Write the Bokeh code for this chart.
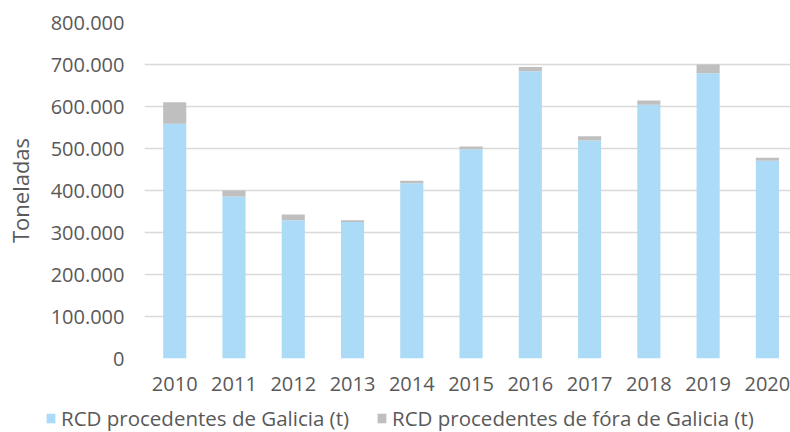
from bokeh.plotting import figure
from bokeh.models import (ColumnDataSource, Range1d, FixedTicker, Legend, LegendItem)
from bokeh.embed import file_html
from bokeh.resources import INLINE

years = [2010, 2011, 2012, 2013, 2014, 2015, 2016, 2017, 2018, 2019, 2020]
galicia = [559000, 386000, 329000, 325000, 417000, 498000, 684000, 519000, 604000, 679000, 471000]
fora = [51000, 14000, 14000, 4000, 6000, 7000, 10000, 10000, 10000, 21000, 7000]
y_ticks = [0, 100000, 200000, 300000, 400000, 500000, 600000, 700000, 800000]
y_tick_labels = ["0", "100.000", "200.000", "300.000", "400.000", "500.000",
                 "600.000", "700.000", "800.000"]
series_names = ["RCD procedentes de Galicia (t)", "RCD procedentes de fóra de Galicia (t)"]
y_title = "Toneladas"

FONT = "Open Sans"
TXT = "#595959"
COLORS = ["#ABDBF7", "#BFBFBF"]

src = ColumnDataSource(dict(year=years, galicia=galicia, fora=fora))

p = figure(width=790, height=396, output_backend="svg", toolbar_location=None,
           x_range=Range1d(2009.49, 2020.39), y_range=Range1d(0, 800000),
           min_border_left=144, min_border_right=0, min_border_top=22,
           min_border_bottom=38)
p.outline_line_color = None
p.background_fill_color = "white"

rs = p.vbar_stack(["galicia", "fora"], x="year", width=0.39, source=src,
                  color=COLORS, line_color=None)

p.xgrid.grid_line_color = None
p.ygrid.grid_line_color = "#D9D9D9"
p.ygrid.grid_line_width = 1.5
p.ygrid.ticker = FixedTicker(ticks=y_ticks)

ya = p.yaxis[0]
ya.ticker = FixedTicker(ticks=y_ticks)
ya.major_label_overrides = {t: l for t, l in zip(y_ticks, y_tick_labels)}
ya.axis_line_color = None
ya.major_tick_line_color = None
ya.minor_tick_line_color = None
ya.major_label_standoff = 14
ya.major_label_text_font = FONT
ya.major_label_text_font_size = "20px"
ya.major_label_text_color = TXT
ya.axis_label = y_title
ya.axis_label_text_font = FONT
ya.axis_label_text_font_size = "22px"
ya.axis_label_text_font_style = "normal"
ya.axis_label_text_color = TXT
ya.axis_label_standoff = 13

xa = p.xaxis[0]
xa.ticker = FixedTicker(ticks=years)
xa.axis_line_color = None
xa.major_tick_line_color = None
xa.minor_tick_line_color = None
xa.major_label_standoff = 12
xa.major_label_text_font = FONT
xa.major_label_text_font_size = "20px"
xa.major_label_text_color = TXT

# legend strip below the chart (separate root so its frame starts at x=0)
lg = figure(width=790, height=36, output_backend="svg", toolbar_location=None,
            x_range=Range1d(0, 1), y_range=Range1d(0, 1),
            x_axis_type=None, y_axis_type=None,
            min_border_left=0, min_border_right=0, min_border_top=0,
            min_border_bottom=0)
lg.outline_line_color = None
lg.xgrid.visible = False
lg.ygrid.visible = False
offscreen = ColumnDataSource(dict(x=[5], top=[5]))
lr = [lg.vbar(x="x", top="top", width=0.1, source=offscreen, color=c, line_color=None)
      for c in COLORS]

legend = Legend(items=[LegendItem(label=series_names[0], renderers=[lr[0]]),
                       LegendItem(label=series_names[1], renderers=[lr[1]])],
                orientation="horizontal", location=(45, 0),
                glyph_width=11, glyph_height=12, label_standoff=5, spacing=27,
                padding=0, margin=0, border_line_color=None,
                background_fill_alpha=0,
                label_text_font=FONT, label_text_font_size="20.5px",
                label_text_color=TXT)
lg.add_layout(legend, "center")

open("out.html", "w").write(file_html([p, lg], INLINE))
